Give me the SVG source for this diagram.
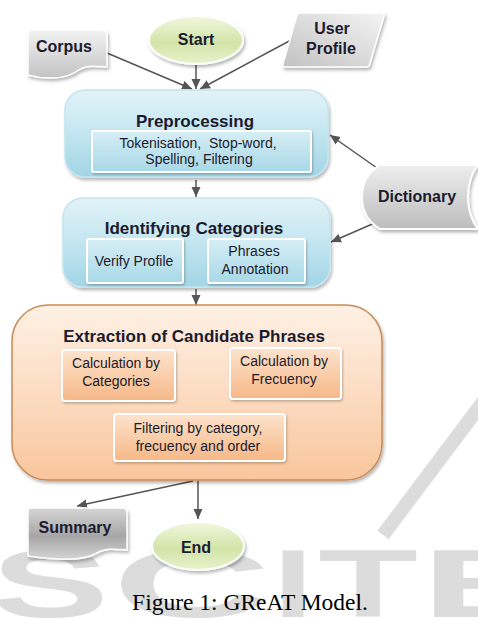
<svg xmlns="http://www.w3.org/2000/svg" width="478" height="619" viewBox="0 0 478 619">
  <defs>
    <style>
      .title { font-family: "Liberation Sans", Arial, sans-serif; font-weight: bold; font-size: 17px; fill: #1b1b30; text-anchor: middle; }
      .label { font-family: "Liberation Sans", Arial, sans-serif; font-weight: bold; font-size: 16px; fill: #1b1b30; text-anchor: middle; }
      .sub { font-family: "Liberation Sans", Arial, sans-serif; font-size: 14px; fill: #1b1b2b; text-anchor: middle; }
      .caption { font-family: "Liberation Serif", "Times New Roman", serif; font-size: 23.5px; fill: #000; text-anchor: middle; }
      .mark { font-family: "Liberation Sans", Arial, sans-serif; font-weight: bold; font-size: 96px; fill: #dcdcdc; text-anchor: middle; }
      .conn { stroke: #555; stroke-width: 1.5; fill: none; marker-end: url(#arrow); }
      .blueOuter { fill: url(#gBlueOuter); stroke: #c4e5f0; stroke-width: 1.5; filter: url(#shadow); }
      .blueInner { fill: url(#gBlueInner); stroke: #ffffff; stroke-width: 2; filter: url(#shadowSm); }
      .orangeInner { fill: url(#gOrangeInner); stroke: #ffffff; stroke-width: 2; filter: url(#shadowSm); }
    </style>
    <linearGradient id="gBlueOuter" x1="0" y1="0" x2="0" y2="1">
      <stop offset="0" stop-color="#e2f3f8"/>
      <stop offset="0.45" stop-color="#c6e7f1"/>
      <stop offset="1" stop-color="#a2d5e6"/>
    </linearGradient>
    <linearGradient id="gBlueInner" x1="0" y1="0" x2="0" y2="1">
      <stop offset="0" stop-color="#d6eef5"/>
      <stop offset="1" stop-color="#a8d8e7"/>
    </linearGradient>
    <linearGradient id="gOrangeOuter" x1="0" y1="0" x2="0" y2="1">
      <stop offset="0" stop-color="#fef0e4"/>
      <stop offset="0.5" stop-color="#fcdcc2"/>
      <stop offset="1" stop-color="#f9c69d"/>
    </linearGradient>
    <linearGradient id="gOrangeInner" x1="0" y1="0" x2="0" y2="1">
      <stop offset="0" stop-color="#fde3cd"/>
      <stop offset="1" stop-color="#f6b887"/>
    </linearGradient>
    <linearGradient id="gGreen" x1="0" y1="0" x2="0" y2="1">
      <stop offset="0" stop-color="#f1f7de"/>
      <stop offset="0.55" stop-color="#d3e4a8"/>
      <stop offset="1" stop-color="#e8f1cc"/>
    </linearGradient>
    <linearGradient id="gGrayDoc" x1="0" y1="0" x2="0" y2="1">
      <stop offset="0" stop-color="#f3f3f3"/>
      <stop offset="1" stop-color="#c3c3c3"/>
    </linearGradient>
    <linearGradient id="gGrayDark" x1="0" y1="0" x2="0" y2="1">
      <stop offset="0" stop-color="#d6d6d6"/>
      <stop offset="0.55" stop-color="#a6a6a6"/>
      <stop offset="1" stop-color="#d4d4d4"/>
    </linearGradient>
    <linearGradient id="gGrayDiag" x1="1" y1="0" x2="0" y2="1">
      <stop offset="0" stop-color="#f4f4f4"/>
      <stop offset="1" stop-color="#c2c2c2"/>
    </linearGradient>
    <linearGradient id="gGrayStore" x1="0" y1="0" x2="0" y2="1">
      <stop offset="0" stop-color="#eeeeee"/>
      <stop offset="0.6" stop-color="#d0d0d0"/>
      <stop offset="1" stop-color="#bdbdbd"/>
    </linearGradient>
    <filter id="shadow" x="-10%" y="-10%" width="125%" height="130%">
      <feDropShadow dx="1.5" dy="2.5" stdDeviation="1.8" flood-color="#000" flood-opacity="0.28"/>
    </filter>
    <filter id="shadowSm" x="-10%" y="-10%" width="125%" height="130%">
      <feDropShadow dx="1" dy="1.5" stdDeviation="1.2" flood-color="#000" flood-opacity="0.25"/>
    </filter>
    <marker id="arrow" markerUnits="userSpaceOnUse" markerWidth="10" markerHeight="10" refX="10" refY="5" orient="auto">
      <path d="M0,0.5 L10,5 L0,9.5 Z" fill="#555"/>
    </marker>
  </defs>

  <rect x="0" y="0" width="478" height="619" fill="#ffffff"/>

  <!-- background watermark -->
  <g id="watermark">
    <line x1="492" y1="390" x2="383" y2="535" stroke="#dcdcdc" stroke-width="14"/>
    <text class="mark" transform="translate(50,617) scale(1.85,1)">S</text>
    <text class="mark" transform="translate(192,617) scale(2.3,1)">C</text>
    <text class="mark" transform="translate(293,617) scale(1.5,1)">I</text>
    <text class="mark" transform="translate(368,617) scale(1.7,1)">T</text>
    <text class="mark" transform="translate(488,617) scale(2.1,1)">E</text>
  </g>

  <!-- connectors -->
  <g id="connectors">
    <line class="conn" x1="107" y1="53" x2="192" y2="89"/>
    <line class="conn" x1="196" y1="65" x2="196" y2="89"/>
    <line class="conn" x1="293" y1="39" x2="200" y2="89"/>
    <line class="conn" x1="196" y1="180" x2="196" y2="197"/>
    <line class="conn" x1="377" y1="168" x2="330" y2="135"/>
    <line class="conn" x1="377" y1="222" x2="331" y2="242"/>
    <line class="conn" x1="196" y1="289" x2="196" y2="305"/>
    <line class="conn" x1="193" y1="481" x2="77" y2="506"/>
    <line class="conn" x1="198" y1="481" x2="198" y2="519"/>
    <line class="conn" x1="118" y1="401" x2="115" y2="437"/>
    <line class="conn" x1="285" y1="399" x2="285" y2="437"/>
  </g>

  <!-- start / end -->
  <g id="start">
    <ellipse cx="196" cy="40" rx="47" ry="24" fill="url(#gGreen)" stroke="#ffffff" stroke-width="2" filter="url(#shadow)"/>
    <text class="label" x="196" y="45">Start</text>
  </g>

  <!-- inputs -->
  <g id="corpus">
    <path d="M31,30 L102,30 Q107,30 107,35 L107,67 C94,66 85,65 77,71 C66,79 46,80 28,75 L28,33 Q28,30 31,30 Z" fill="url(#gGrayDoc)" stroke="#ffffff" stroke-width="1.5" filter="url(#shadow)"/>
    <text class="label" x="64" y="52">Corpus</text>
  </g>

  <g id="user-profile">
    <path d="M300,13 L382,13 Q385,13 384,16 L369,66 Q368,67 366,67 L285,67 Q282,67 283,64 L297,15 Q298,13 300,13 Z" fill="url(#gGrayDiag)" stroke="#ffffff" stroke-width="1.5" filter="url(#shadow)"/>
    <text class="label" x="332" y="34">User</text>
    <text class="label" x="331" y="54">Profile</text>
  </g>

  <g id="dictionary">
    <path d="M380,165 L478,165 C470,175 468,187 468,197 C468,208 471,220 478,229 L380,229 C368,222 362,210 362,197 C362,184 368,172 380,165 Z" fill="url(#gGrayStore)" stroke="#ffffff" stroke-width="2" filter="url(#shadow)"/>
    <text class="label" x="417" y="202">Dictionary</text>
  </g>

  <!-- preprocessing -->
  <g id="preprocessing">
    <rect class="blueOuter" x="65" y="90" width="263" height="87" rx="20"/>
    <text class="title" x="195" y="127">Preprocessing</text>
    <rect class="blueInner" x="92" y="131" width="219" height="41" rx="2"/>
    <text class="sub" x="198" y="148" xml:space="preserve">Tokenisation,  Stop-word,</text>
    <text class="sub" x="199" y="164">Spelling, Filtering</text>
  </g>

  <!-- identifying categories -->
  <g id="identifying">
    <rect class="blueOuter" x="63" y="198" width="267" height="89" rx="20"/>
    <text class="title" x="194" y="234">Identifying Categories</text>
    <rect class="blueInner" x="87" y="239" width="96" height="44" rx="2"/>
    <text class="sub" x="134" y="266">Verify Profile</text>
    <rect class="blueInner" x="208" y="239" width="97" height="44" rx="2"/>
    <text class="sub" x="254" y="256">Phrases</text>
    <text class="sub" x="255" y="274">Annotation</text>
  </g>

  <!-- extraction -->
  <g id="extraction">
    <rect x="12" y="305" width="370" height="175" rx="36" fill="url(#gOrangeOuter)" stroke="#c98b55" stroke-width="1.5" filter="url(#shadow)"/>
    <text class="title" x="194" y="342">Extraction of Candidate Phrases</text>
  </g>

  <g id="calc-categories">
    <rect class="orangeInner" x="62" y="350" width="113" height="51" rx="3"/>
    <text class="sub" x="116" y="368">Calculation by</text>
    <text class="sub" x="116" y="386">Categories</text>
  </g>

  <g id="calc-frecuency">
    <rect class="orangeInner" x="230" y="348" width="111" height="51" rx="3"/>
    <text class="sub" x="284" y="366">Calculation by</text>
    <text class="sub" x="284" y="384">Frecuency</text>
  </g>

  <g id="filtering">
    <rect class="orangeInner" x="114" y="414" width="171" height="47" rx="3"/>
    <text class="sub" x="198" y="433">Filtering by category,</text>
    <text class="sub" x="198" y="451">frecuency and order</text>
  </g>

  <!-- outputs -->
  <g id="summary">
    <path d="M31,508 L122,508 Q127,508 127,513 L127,550 C114,549 105,548 97,553 C86,560 62,561 28,556 L28,511 Q28,508 31,508 Z" fill="url(#gGrayDark)" stroke="#ffffff" stroke-width="1.5" filter="url(#shadow)"/>
    <text class="label" x="75" y="533">Summary</text>
  </g>

  <g id="end">
    <ellipse cx="198" cy="546" rx="46" ry="24" fill="url(#gGreen)" stroke="#ffffff" stroke-width="2" filter="url(#shadow)"/>
    <text class="label" x="196" y="553">End</text>
  </g>

  <text class="caption" x="250" y="610">Figure 1: GReAT Model.</text>
</svg>
